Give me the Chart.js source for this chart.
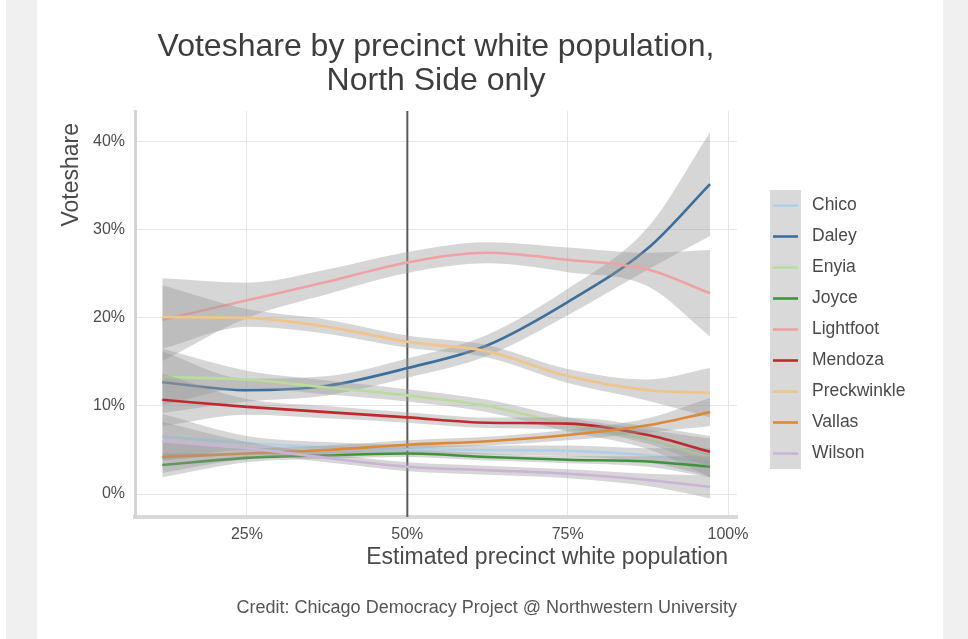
<!DOCTYPE html>
<html>
<head>
<meta charset="utf-8">
<title>Voteshare by precinct white population</title>
<script src="https://cdn.jsdelivr.net/npm/chart.js@4.4.1/dist/chart.umd.min.js"></script>
<style>
  html, body { margin: 0; padding: 0; background: #fff; }
  #wrap { width: 968px; height: 639px; }
</style>
</head>
<body>
<div id="wrap"><canvas id="voteChart" width="968" height="639"></canvas></div>
<script>
// smoothed voteshare (%) per candidate, sampled along precinct white population (%)
const whitePct = [11.8, 25, 37.5, 50, 62.5, 75, 87.5, 97.2];
const candidates = ['Chico', 'Daley', 'Enyia', 'Joyce', 'Lightfoot', 'Mendoza', 'Preckwinkle', 'Vallas', 'Wilson'];

const chico       = [6.5, 5.8, 5.3, 5.1, 5.0, 4.9, 4.4, 3.6];
const daley       = [12.7, 11.8, 12.3, 14.3, 16.9, 21.8, 27.9, 35.2];
const enyia       = [13.3, 13.0, 12.1, 11.2, 10.0, 7.9, 6.2, 4.1];
const joyce       = [3.3, 4.1, 4.4, 4.6, 4.2, 3.9, 3.7, 3.1];
const lightfoot   = [19.8, 22.0, 24.1, 26.3, 27.4, 26.6, 25.5, 22.8];
const mendoza     = [10.7, 9.9, 9.3, 8.7, 8.1, 8.0, 6.7, 4.8];
const preckwinkle = [20.1, 20.0, 19.0, 17.3, 16.2, 13.4, 11.8, 11.5];
const vallas      = [4.2, 4.6, 5.0, 5.6, 6.0, 6.7, 7.8, 9.3];
const wilson      = [6.0, 5.2, 4.1, 3.1, 2.7, 2.3, 1.6, 0.8];

// half-width of the confidence ribbon around each curve
const chicoSe       = [2.6, 0.8, 0.6, 0.5, 0.5, 0.6, 0.8, 1.6];
const daleySe       = [3.5, 1.3, 1.1, 1.1, 1.2, 1.5, 2.4, 5.9];
const enyiaSe       = [3.2, 1.0, 0.8, 0.7, 0.7, 0.8, 1.1, 2.2];
const joyceSe       = [1.4, 0.5, 0.4, 0.4, 0.4, 0.4, 0.6, 1.2];
const lightfootSe   = [4.7, 2.0, 1.4, 1.2, 1.2, 1.4, 1.9, 4.9];
const mendozaSe     = [3.0, 0.9, 0.7, 0.6, 0.6, 0.7, 1.0, 1.8];
const preckwinkleSe = [3.6, 1.0, 0.8, 0.7, 0.7, 0.8, 1.2, 2.8];
const vallasSe      = [1.8, 0.6, 0.5, 0.5, 0.5, 0.6, 0.8, 1.6];
const wilsonSe      = [2.2, 0.7, 0.5, 0.5, 0.5, 0.5, 0.7, 1.3];

const xTicks = [25, 50, 75, 100];
const yTicks = [0, 10, 20, 30, 40];
const splitAt = 50;

const shares = [chico, daley, enyia, joyce, lightfoot, mendoza, preckwinkle, vallas, wilson];
const errors = [chicoSe, daleySe, enyiaSe, joyceSe, lightfootSe, mendozaSe, preckwinkleSe, vallasSe, wilsonSe];
const lineColors = ['#afd0e6', '#3d6f9b', '#b9dc9c', '#3f933c', '#eda3a3', '#bf2a2e', '#f0c58c', '#dc8a38', '#c9b4d6'];

const FONT = "'Liberation Sans', Arial, Helvetica, sans-serif";
const ribbonFill = 'rgba(153,153,153,0.4)';

const toPoints = arr => arr.map((v, i) => ({ x: whitePct[i], y: v }));

// each candidate: upper edge, lower edge filled to it, then the curve itself
const datasets = [];
let drawIdx = 0;
const total = candidates.length * 3;
candidates.forEach((name, k) => {
  const hi = shares[k].map((v, i) => +(v + errors[k][i]).toFixed(2));
  const lo = shares[k].map((v, i) => +(v - errors[k][i]).toFixed(2));
  datasets.push({
    label: name + ' upper', data: toPoints(hi),
    borderWidth: 0, pointRadius: 0, fill: false,
    cubicInterpolationMode: 'monotone', order: total - drawIdx++
  });
  datasets.push({
    label: name + ' lower', data: toPoints(lo),
    borderWidth: 0, pointRadius: 0, fill: '-1', backgroundColor: ribbonFill,
    cubicInterpolationMode: 'monotone', order: total - drawIdx++
  });
  datasets.push({
    label: name, data: toPoints(shares[k]),
    borderColor: lineColors[k], borderWidth: 2.6, pointRadius: 0, fill: false,
    cubicInterpolationMode: 'monotone', order: total - drawIdx++
  });
});

const decorations = {
  id: 'decorations',
  beforeDraw(chart) {
    const ctx = chart.ctx;
    ctx.save();
    ctx.fillStyle = '#ffffff';
    ctx.fillRect(0, 0, chart.width, chart.height);
    ctx.fillStyle = '#f0f0f0';
    ctx.fillRect(6, 0, 31, chart.height);
    ctx.fillRect(943, 0, 25, chart.height);
    ctx.restore();
  },
  beforeDatasetsDraw(chart) {
    const { ctx, chartArea, scales } = chart;
    const x = scales.x.getPixelForValue(splitAt);
    ctx.save();
    ctx.strokeStyle = '#5a5a5a';
    ctx.lineWidth = 2;
    ctx.beginPath();
    ctx.moveTo(x, chartArea.top);
    ctx.lineTo(x, chartArea.bottom);
    ctx.stroke();
    ctx.restore();
  },
  afterDraw(chart) {
    const { ctx, chartArea } = chart;
    ctx.save();

    // title
    ctx.fillStyle = '#3d3d3d';
    ctx.font = '32px ' + FONT;
    ctx.textAlign = 'center';
    ctx.textBaseline = 'middle';
    const cx = (chartArea.left + chartArea.right) / 2;
    ctx.fillText('Voteshare by precinct white population,', cx, 47);
    ctx.fillText('North Side only', cx, 81);

    // axis titles
    ctx.font = '23px ' + FONT;
    ctx.fillStyle = '#4a4a4a';
    ctx.textAlign = 'right';
    ctx.fillText('Estimated precinct white population', chartArea.right - 9, 558);
    ctx.save();
    ctx.translate(72, chartArea.top + 12);
    ctx.rotate(-Math.PI / 2);
    ctx.textAlign = 'right';
    ctx.fillText('Voteshare', 0, 0);
    ctx.restore();

    // caption
    ctx.font = '18px ' + FONT;
    ctx.fillStyle = '#555555';
    ctx.textAlign = 'right';
    ctx.fillText('Credit: Chicago Democracy Project @ Northwestern University', chartArea.right, 608);

    // legend with ribbon-coloured keys
    const keyX = 770, keyTop = 190, keyW = 31, keyH = 31;
    candidates.forEach((name, k) => {
      const y = keyTop + k * keyH;
      ctx.fillStyle = '#d9d9d9';
      ctx.fillRect(keyX, y, keyW, keyH);
      ctx.strokeStyle = lineColors[k];
      ctx.lineWidth = 2.6;
      ctx.beginPath();
      ctx.moveTo(keyX + 3, y + keyH / 2);
      ctx.lineTo(keyX + keyW - 3, y + keyH / 2);
      ctx.stroke();
      ctx.fillStyle = '#4a4a4a';
      ctx.font = '17.5px ' + FONT;
      ctx.textAlign = 'left';
      ctx.fillText(name, 812, y + keyH / 2);
    });
    ctx.restore();
  }
};

new Chart(document.getElementById('voteChart').getContext('2d'), {
  type: 'line',
  data: { datasets: datasets },
  options: {
    responsive: false,
    animation: false,
    layout: { padding: { left: 0, right: 231, top: 111, bottom: 0 } },
    plugins: {
      legend: { display: false },
      tooltip: { enabled: false },
      filler: { propagate: false }
    },
    scales: {
      x: {
        type: 'linear',
        min: 7.54,
        max: 101.4,
        afterBuildTicks: s => { s.ticks = xTicks.map(v => ({ value: v })); },
        afterFit: s => { s.height = 122; },
        grid: { color: '#e6e6e6', lineWidth: 1, drawTicks: false },
        border: { display: true, color: '#d9d9d9', width: 4 },
        ticks: {
          padding: 8,
          color: '#4d4d4d',
          font: { family: FONT, size: 16 },
          callback: v => v + '%'
        }
      },
      y: {
        type: 'linear',
        min: -2.61,
        max: 43.5,
        afterBuildTicks: s => { s.ticks = yTicks.map(v => ({ value: v })); },
        afterFit: s => { s.width = 135; },
        grid: { color: '#e6e6e6', lineWidth: 1, drawTicks: false },
        border: { display: true, color: '#d4d4d4', width: 3 },
        ticks: {
          padding: 10,
          color: '#4d4d4d',
          font: { family: FONT, size: 16 },
          callback: v => v + '%'
        }
      }
    }
  },
  plugins: [decorations]
});
</script>
</body>
</html>
